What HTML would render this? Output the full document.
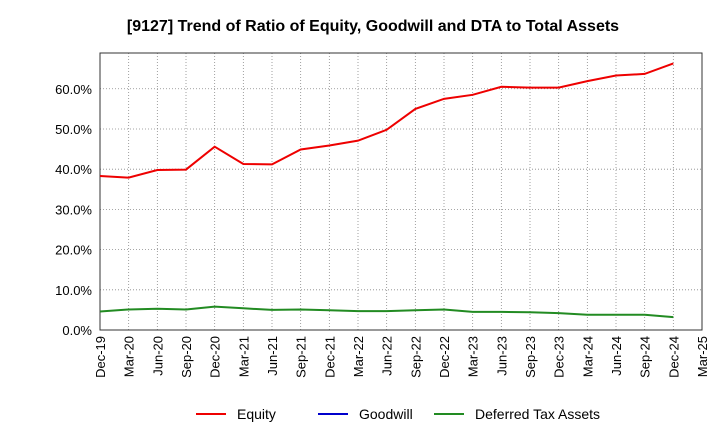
<!DOCTYPE html>
<html><head><meta charset="utf-8"><style>
body{margin:0;background:#fff;font-family:"Liberation Sans",sans-serif;}
</style></head><body>
<svg width="720" height="440" xmlns="http://www.w3.org/2000/svg">
<text x="373" y="31" text-anchor="middle" font-size="16" font-weight="bold">[9127]  Trend of Ratio of Equity, Goodwill and DTA to Total Assets</text>
<g id="grid"></g><g id="axes"></g><g id="series"></g>
<g>
<line x1="196" y1="414" x2="226" y2="414" stroke="#e00" stroke-width="2"/><text x="237" y="419" font-size="14">Equity</text>
<line x1="318" y1="414" x2="348" y2="414" stroke="#00c" stroke-width="2"/><text x="359" y="419" font-size="14">Goodwill</text>
<line x1="434" y1="414" x2="464" y2="414" stroke="#228b22" stroke-width="2"/><text x="475" y="419" font-size="14">Deferred Tax Assets</text>
</g>
</svg>
<script>
const xLabels=["Dec-19","Mar-20","Jun-20","Sep-20","Dec-20","Mar-21","Jun-21","Sep-21","Dec-21","Mar-22","Jun-22","Sep-22","Dec-22","Mar-23","Jun-23","Sep-23","Dec-23","Mar-24","Jun-24","Sep-24","Dec-24","Mar-25"];
const yTicks=[0,10,20,30,40,50,60];
const equity=[38.3,37.9,39.8,39.9,45.6,41.3,41.2,44.9,45.9,47.1,49.8,55.0,57.5,58.5,60.5,60.3,60.3,61.9,63.3,63.7,66.3];
const goodwill=[];
const dta=[4.6,5.1,5.3,5.1,5.8,5.4,5.0,5.1,4.9,4.7,4.7,4.9,5.1,4.5,4.5,4.4,4.2,3.8,3.8,3.8,3.2];
const L=100,R=702,T=53,B=330,ymax=68.9;
const ns="http://www.w3.org/2000/svg";
const xs=i=>L+(R-L)*i/(xLabels.length-1);
const ys=v=>B-(B-T)*v/ymax;
function mk(t,a,p){const e=document.createElementNS(ns,t);for(const k in a)e.setAttribute(k,a[k]);p.appendChild(e);return e;}
const g=document.getElementById('grid'),ax=document.getElementById('axes'),s=document.getElementById('series');
xLabels.forEach((l,i)=>{const x=xs(i);
const gl=mk('line',{x1:x,x2:x,y1:T,y2:B,stroke:'#888','stroke-dasharray':'1,2','stroke-width':0.8},g);

const t=mk('text',{x:0,y:0,'font-size':13,'text-anchor':'end',transform:`translate(${x+5},${B+6}) rotate(-90)`},ax);
t.textContent=l;});
yTicks.forEach(v=>{const y=ys(v);
const gl=mk('line',{x1:L,x2:R,y1:y,y2:y,stroke:'#888','stroke-dasharray':'1,2','stroke-width':0.8},g);

const t=mk('text',{x:L-8,y:y+5,'font-size':13,'text-anchor':'end'},ax);
t.textContent=v.toFixed(1)+'%';});
const fr=mk('rect',{x:L,y:T,width:R-L,height:B-T,fill:'none',stroke:'#333','stroke-width':1},ax);

function line(d,c,n){if(!d.length)return;const p=mk('polyline',{points:d.map((v,i)=>xs(i)+','+ys(v)).join(' '),fill:'none',stroke:c,'stroke-width':2},s);
}
line(equity,'#e00','equity-line');line(goodwill,'#00c','goodwill-line');line(dta,'#228b22','dta-line');
</script>
</body></html>
